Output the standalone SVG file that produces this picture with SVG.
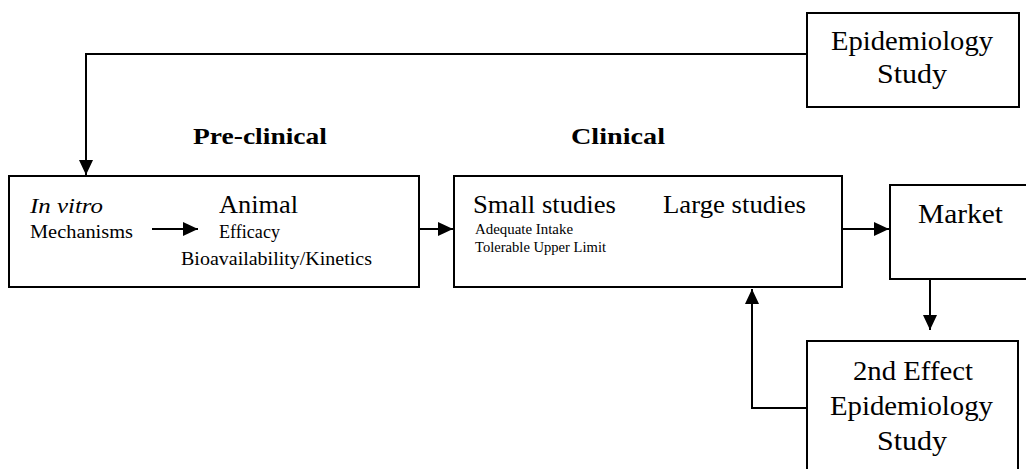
<svg xmlns="http://www.w3.org/2000/svg" width="1026" height="469" viewBox="0 0 1026 469">
<style>
  .box { fill: #ffffff; stroke: #000000; stroke-width: 2; }
  .line { fill: none; stroke: #000000; stroke-width: 2; }
  text { font-family: "Liberation Serif", "Times New Roman", serif; fill: #000000; }
  .big { font-size: 27px; }
  .mid { font-size: 25px; }
  .hdr { font-size: 24px; font-weight: bold; }
  .sm { font-size: 19px; }
  .xs { font-size: 15px; }
</style>
<defs>
  <marker id="arr" markerUnits="userSpaceOnUse" markerWidth="17" markerHeight="17" viewBox="0 0 17 17" refX="16" refY="8.5" orient="auto">
    <path d="M1,1.5 L16,8.5 L1,15.5 Z" fill="#000000"/>
  </marker>
</defs>
<rect width="1026" height="469" fill="#ffffff"/>

<g id="epidemiology">
  <rect class="box" x="807" y="13" width="212" height="94"/>
  <text class="big" x="831" y="50" textLength="162" lengthAdjust="spacingAndGlyphs">Epidemiology</text>
  <text class="big" x="877" y="83" textLength="70" lengthAdjust="spacingAndGlyphs">Study</text>
</g>

<g id="labels">
  <text class="hdr" x="193" y="144" textLength="134" lengthAdjust="spacingAndGlyphs">Pre-clinical</text>
  <text class="hdr" x="571" y="144" textLength="94" lengthAdjust="spacingAndGlyphs">Clinical</text>
</g>

<g id="preclinical">
  <rect class="box" x="9" y="176" width="410" height="111"/>
  <text x="30" y="213" font-size="22" font-style="italic" textLength="73" lengthAdjust="spacingAndGlyphs">In vitro</text>
  <text class="sm" x="30" y="238" textLength="103" lengthAdjust="spacingAndGlyphs">Mechanisms</text>
  <text class="mid" x="219" y="213" textLength="79" lengthAdjust="spacingAndGlyphs">Animal</text>
  <text class="sm" x="219" y="238" textLength="61" lengthAdjust="spacingAndGlyphs">Efficacy</text>
  <text class="sm" x="181" y="265" textLength="191" lengthAdjust="spacingAndGlyphs">Bioavailability/Kinetics</text>
</g>

<g id="clinical">
  <rect class="box" x="454" y="176" width="388" height="111"/>
  <text class="mid" x="473" y="213" textLength="143" lengthAdjust="spacingAndGlyphs">Small studies</text>
  <text class="mid" x="663" y="213" textLength="143" lengthAdjust="spacingAndGlyphs">Large studies</text>
  <text class="xs" x="475" y="234" textLength="98" lengthAdjust="spacingAndGlyphs">Adequate Intake</text>
  <text class="xs" x="475" y="252" textLength="131" lengthAdjust="spacingAndGlyphs">Tolerable Upper Limit</text>
</g>

<g id="market">
  <rect class="box" x="890" y="185" width="150" height="94"/>
  <text class="big" x="918" y="223" textLength="85" lengthAdjust="spacingAndGlyphs">Market</text>
</g>

<g id="second-effect">
  <rect class="box" x="807" y="341" width="211" height="140"/>
  <text class="big" x="853" y="380" textLength="120" lengthAdjust="spacingAndGlyphs">2nd Effect</text>
  <text class="big" x="830" y="415" textLength="163" lengthAdjust="spacingAndGlyphs">Epidemiology</text>
  <text class="big" x="877" y="450" textLength="70" lengthAdjust="spacingAndGlyphs">Study</text>
</g>

<g id="connectors">
  <path class="line" d="M807,54 L86,54 L86,175" marker-end="url(#arr)"/>
  <path class="line" d="M419,229 L453,229" marker-end="url(#arr)"/>
  <path class="line" d="M842,229 L889,229" marker-end="url(#arr)"/>
  <path class="line" d="M930,279 L930,330" marker-end="url(#arr)"/>
  <path class="line" d="M807,408 L752,408 L752,289" marker-end="url(#arr)"/>
  <path class="line" d="M152,229 L198,229" marker-end="url(#arr)"/>
</g>
</svg>
